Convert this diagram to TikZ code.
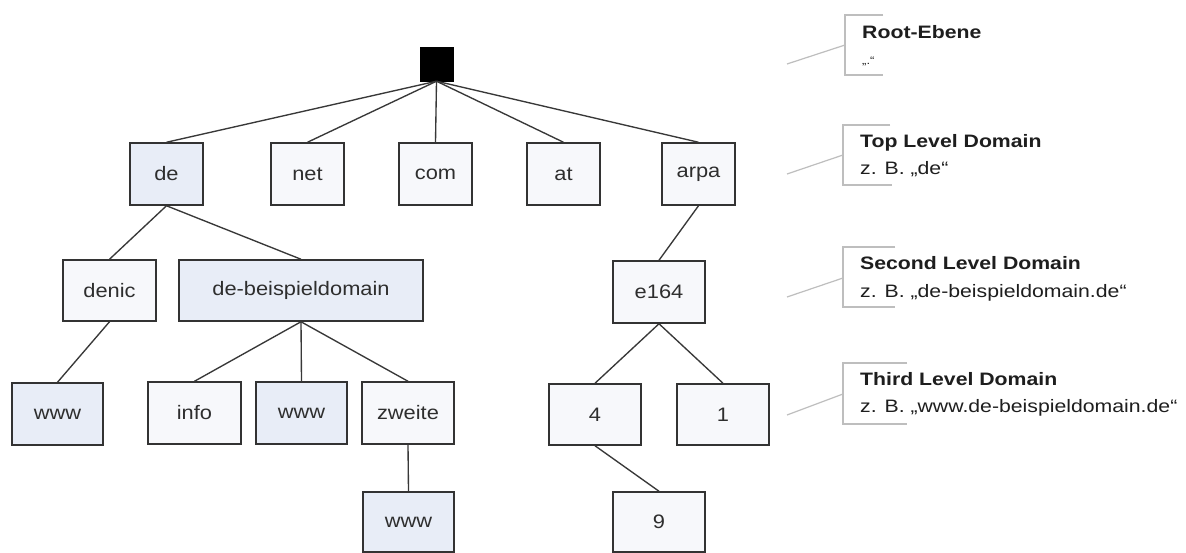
\documentclass[tikz,border=0pt]{standalone}
\usepackage{fontspec}
\setmainfont{Liberation Sans}
\newfontfamily\nodefont[FakeStretch=1.12]{Liberation Sans}
\newfontfamily\legfont[FakeStretch=1.18]{Liberation Sans}
\definecolor{bluefill}{HTML}{E8EDF7}
\definecolor{plainfill}{HTML}{F7F8FB}
\definecolor{boxline}{HTML}{333333}
\definecolor{edgecol}{HTML}{383838}
\definecolor{leggray}{HTML}{BEBEBE}
\definecolor{textdark}{HTML}{1E1E1E}
\definecolor{textgray}{HTML}{2E2E2E}
\begin{document}
\begin{tikzpicture}[x=1pt,y=-1pt,
  box/.style={draw=boxline, line width=1.5pt, fill=plainfill, inner sep=0pt, text=textgray,
    font=\nodefont\fontsize{19.5}{22}\selectfont, minimum height=61pt, minimum width=92pt},
  tld/.style={box, minimum width=73pt, minimum height=62pt},
  hl/.style={fill=bluefill},
  edge/.style={draw=edgecol, line width=1.35pt},
  leg/.style={draw=leggray, line width=1.2pt},
  legtitle/.style={anchor=base west, inner sep=0pt, font=\legfont\bfseries\fontsize{18}{20}\selectfont, text=textdark},
  legtext/.style={anchor=base west, inner sep=0pt, font=\legfont\fontsize{18}{20}\selectfont, text=textdark}]
\useasboundingbox (0,0) rectangle (1186,552);
\fill[white] (0,0) rectangle (1186,552);

% root
\node[draw=black, fill=black, minimum width=33pt, minimum height=34pt, inner sep=0pt] (root) at (436.5,64) {};

% top level
\node[tld, hl] (de) at (166.5,174) {de};
\node[tld] (net) at (307.5,174) {net};
\node[tld] (com) at (435.5,174) {com};
\node[tld] (at) at (563.5,174) {at};
\node[tld] (arpa) at (698.5,174) {arpa};

% second level
\node[box, minimum width=93pt] (denic) at (109.5,290.5) {denic};
\node[box, hl, minimum width=244pt] (dbd) at (301,290.5) {de-beispieldomain};
\node[box, minimum height=62pt] (e164) at (659,292) {e164};

% third level
\node[box, hl, minimum width=91pt, minimum height=62pt] (www1) at (57.5,414) {www};
\node[box, minimum width=93pt, minimum height=62pt] (info) at (194.5,413) {info};
\node[box, hl, minimum width=91pt, minimum height=62pt] (www2) at (301.5,413) {www};
\node[box, minimum height=62pt] (zweite) at (408,413) {zweite};
\node[box] (n4) at (595,414.5) {4};
\node[box] (n1) at (723,414.5) {1};

% fourth level
\node[box, hl, minimum width=91pt, minimum height=60pt] (www3) at (408.5,522) {www};
\node[box, minimum height=60pt] (n9) at (659,522) {9};

% connectors
\foreach \c in {de,net,com,at,arpa}
  \draw[edge] (root.south) -- (\c.north);
\draw[edge] (de.south) -- (denic.north);
\draw[edge] (de.south) -- (dbd.north);
\draw[edge] (arpa.south) -- (e164.north);
\draw[edge] (denic.south) -- (www1.north);
\draw[edge] (dbd.south) -- (info.north);
\draw[edge] (dbd.south) -- (www2.north);
\draw[edge] (dbd.south) -- (zweite.north);
\draw[edge] (zweite.south) -- (www3.north);
\draw[edge] (e164.south) -- (n4.north);
\draw[edge] (e164.south) -- (n1.north);
\draw[edge] (n4.south) -- (n9.north);

% legend: root
\coordinate (rA) at (845,45);
\coordinate (rB) at (787,64);
\draw[leg] (883,15) -- (845,15) -- (845,75) -- (883,75);
\draw[leg] (rA) -- (rB);
\node[legtitle] (rT) at (862,38) {Root-Ebene};
\node[legtext, font=\legfont\fontsize{11}{12}\selectfont] (rS) at (862,64) {„.“};

% legend: top level
\coordinate (tA) at (843,155);
\coordinate (tB) at (787,174);
\draw[leg] (890,125) -- (843,125) -- (843,185) -- (892,185);
\draw[leg] (tA) -- (tB);
\node[legtitle] (tT) at (860,147) {Top Level Domain};
\node[legtext] (tS) at (860,174) {z. B. „de“};

% legend: second level
\coordinate (sA) at (843,278);
\coordinate (sB) at (787,297);
\draw[leg] (895,247) -- (843,247) -- (843,307) -- (895,307);
\draw[leg] (sA) -- (sB);
\node[legtitle] (sT) at (860,269) {Second Level Domain};
\node[legtext] (sS) at (860,297) {z. B. „de-beispieldomain.de“};

% legend: third level
\coordinate (hA) at (843,394);
\coordinate (hB) at (787,415);
\draw[leg] (907,363) -- (843,363) -- (843,424) -- (907,424);
\draw[leg] (hA) -- (hB);
\node[legtitle] (hT) at (860,385) {Third Level Domain};
\node[legtext] (hS) at (860,412) {z. B. „www.de-beispieldomain.de“};
\end{tikzpicture}
\end{document}
